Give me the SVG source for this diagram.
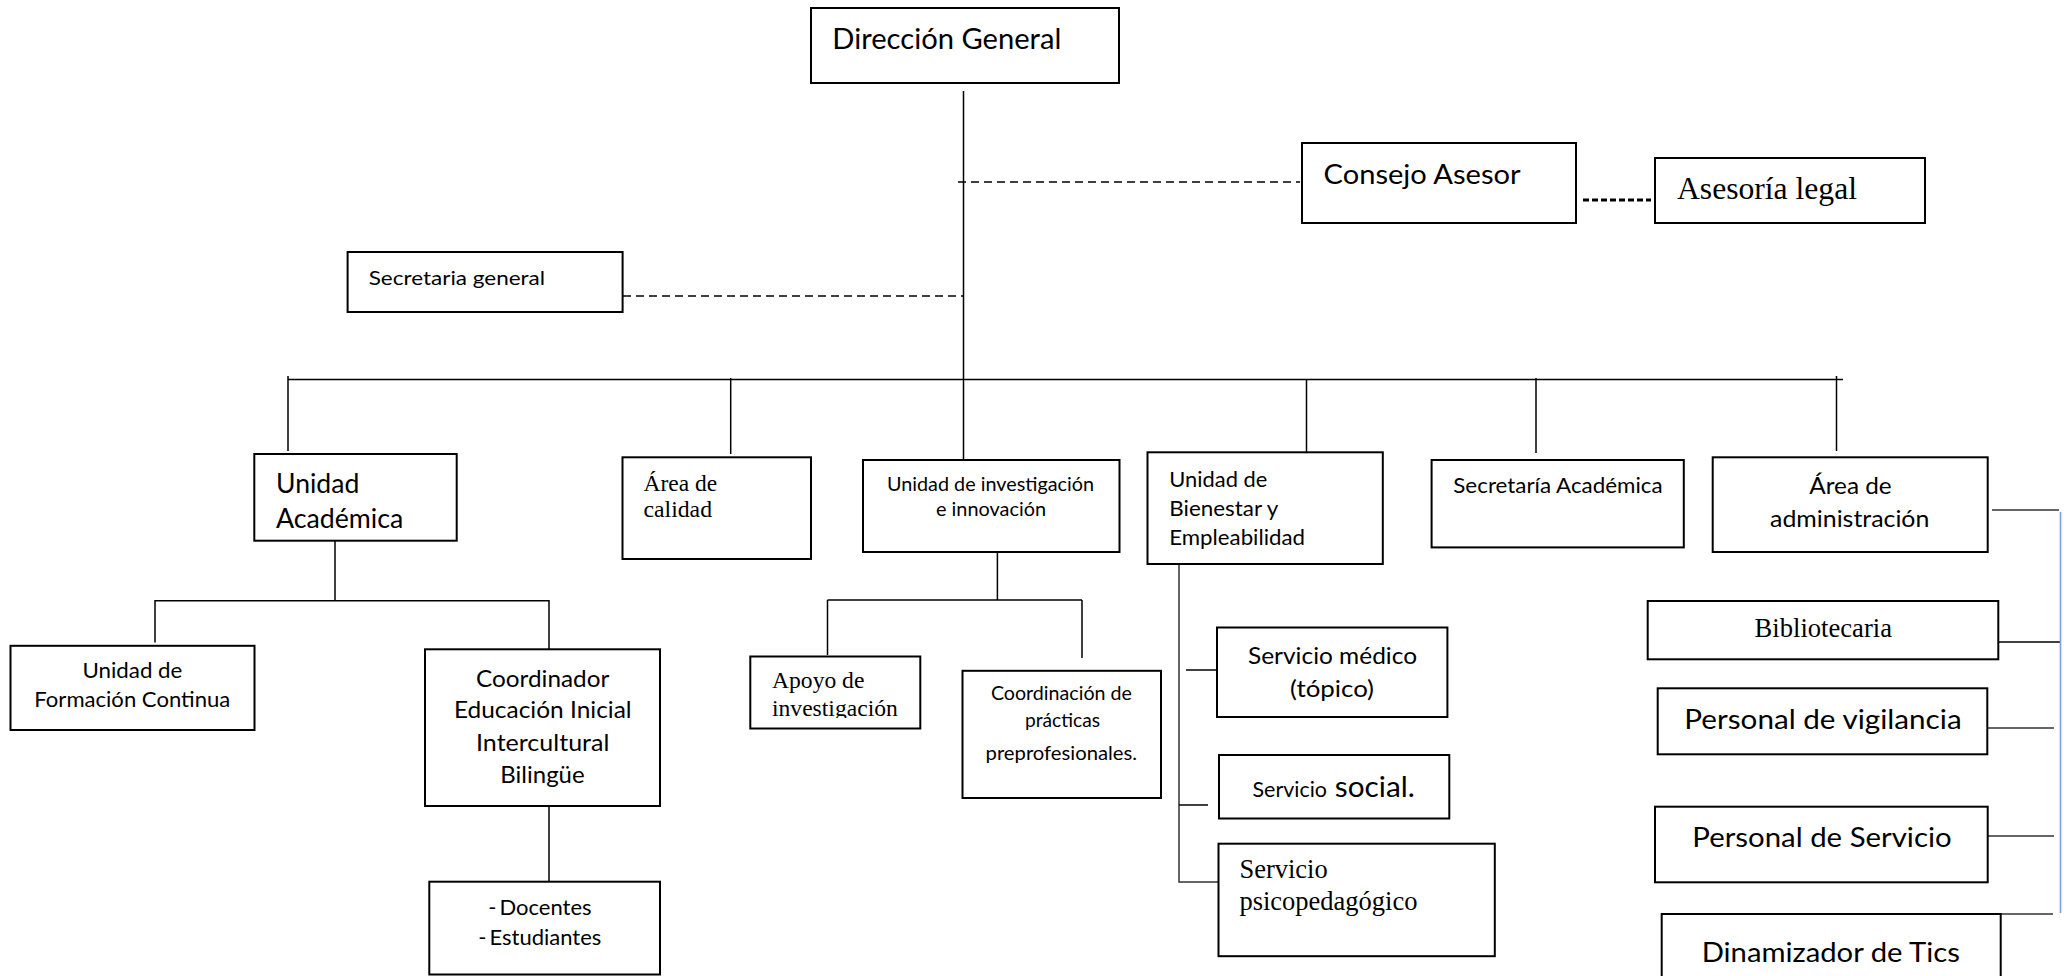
<svg xmlns="http://www.w3.org/2000/svg" width="2064" height="976" viewBox="0 0 2064 976">
<style>
.box{fill:#fff;stroke:#000;stroke-width:2}
.ln{stroke:#000;stroke-width:1.5;fill:none}
.gr{stroke:#333;stroke-width:1.5;fill:none}
.dash{stroke:#000;stroke-width:1.6;stroke-dasharray:8 5;fill:none}
.dot{stroke:#000;stroke-width:3;stroke-dasharray:6 3;fill:none}
.blue{stroke:#7f9fd8;stroke-width:1.6;fill:none}
.t{font-family:Lato,"Liberation Sans",sans-serif;fill:#000}
.s{font-family:"Liberation Serif",serif;fill:#000}
.m{text-anchor:middle}
</style>
<defs>
<clipPath id="clipApoyo"><rect x="750" y="656" width="171" height="62"/></clipPath>
</defs>
<rect width="2064" height="976" fill="#fff"/>
<g id="connectors">
<line class="ln" x1="963.5" y1="91" x2="963.5" y2="460"/>
<line class="dash" x1="958" y1="182" x2="1300" y2="182"/>
<line class="dash" x1="623" y1="296" x2="963" y2="296"/>
<line class="dot" x1="1583" y1="200" x2="1651" y2="200"/>
<line class="ln" x1="288" y1="379.5" x2="1843" y2="379.5"/>
<line class="ln" x1="288" y1="376" x2="288" y2="451"/>
<line class="ln" x1="730.7" y1="378" x2="730.7" y2="454"/>
<line class="ln" x1="1306.5" y1="379" x2="1306.5" y2="452"/>
<line class="ln" x1="1536" y1="378" x2="1536" y2="453"/>
<line class="ln" x1="1836.5" y1="376" x2="1836.5" y2="451"/>
<line class="ln" x1="335" y1="541" x2="335" y2="600.7"/>
<line class="ln" x1="155" y1="600.7" x2="549" y2="600.7"/>
<line class="ln" x1="155" y1="600" x2="155" y2="642.4"/>
<line class="ln" x1="549" y1="600" x2="549" y2="658.3"/>
<line class="ln" x1="549" y1="806" x2="549" y2="881.7"/>
<line class="ln" x1="997.4" y1="552" x2="997.4" y2="600"/>
<line class="ln" x1="827.5" y1="600" x2="1082" y2="600"/>
<line class="ln" x1="827.5" y1="600" x2="827.5" y2="655"/>
<line class="ln" x1="1082" y1="600" x2="1082" y2="658"/>
<polyline class="gr" points="1179,561 1179,882 1223,882"/>
<line class="ln" x1="1186" y1="670" x2="1217" y2="670"/>
<line class="ln" x1="1179" y1="805" x2="1208" y2="805"/>
<line class="gr" x1="1992" y1="510" x2="2059" y2="510"/>
<line class="ln" x1="1998" y1="642" x2="2061" y2="642"/>
<line class="gr" x1="1988" y1="728" x2="2054" y2="728"/>
<line class="gr" x1="1988" y1="836" x2="2054" y2="836"/>
<line class="gr" x1="2000" y1="914" x2="2053" y2="914"/>
<line class="blue" x1="2060.5" y1="512" x2="2060.5" y2="913"/>
</g>
<g id="direccion-general">
<rect class="box" x="811" y="8" width="308" height="75"/>
<text class="t" x="832.3" y="49" font-size="28" textLength="229" lengthAdjust="spacingAndGlyphs">Dirección General</text>
</g>
<g id="consejo-asesor">
<rect class="box" x="1302" y="143" width="274" height="80"/>
<text class="t" x="1323.6" y="184" font-size="27" textLength="197" lengthAdjust="spacingAndGlyphs">Consejo Asesor</text>
</g>
<g id="asesoria-legal">
<rect class="box" x="1655" y="158" width="270" height="65"/>
<text class="s" x="1677" y="199" font-size="30.5" textLength="180" lengthAdjust="spacingAndGlyphs">Asesoría legal</text>
</g>
<g id="secretaria-general">
<rect class="box" x="347.6" y="252" width="275" height="60"/>
<text class="t" x="368.7" y="285" font-size="20" textLength="176.4" lengthAdjust="spacingAndGlyphs">Secretaria general</text>
</g>
<g id="unidad-academica">
<rect class="box" x="254.3" y="454" width="202.4" height="86.7"/>
<text class="t" x="276" y="493.3" font-size="27" textLength="83.3" lengthAdjust="spacingAndGlyphs">Unidad</text>
<text class="t" x="276" y="528.3" font-size="27" textLength="127.3" lengthAdjust="spacingAndGlyphs">Académica</text>
</g>
<g id="area-calidad">
<rect class="box" x="622.5" y="457.3" width="188.5" height="101.7"/>
<text class="s" x="643.5" y="490.5" font-size="23" textLength="73.7" lengthAdjust="spacingAndGlyphs">Área de</text>
<text class="s" x="643.5" y="517.3" font-size="23" textLength="68.5" lengthAdjust="spacingAndGlyphs">calidad</text>
</g>
<g id="unidad-investigacion">
<rect class="box" x="863" y="460" width="256.5" height="92"/>
<text class="t m" x="990.5" y="490.6" font-size="19" textLength="207" lengthAdjust="spacingAndGlyphs">Unidad de investigación</text>
<text class="t m" x="991" y="516" font-size="19" textLength="110" lengthAdjust="spacingAndGlyphs">e innovación</text>
</g>
<g id="unidad-bienestar">
<rect class="box" x="1147.5" y="452.3" width="235.3" height="111.7"/>
<text class="t" x="1169.3" y="486.7" font-size="21" textLength="98" lengthAdjust="spacingAndGlyphs">Unidad de</text>
<text class="t" x="1169.3" y="516" font-size="21" textLength="109" lengthAdjust="spacingAndGlyphs">Bienestar y</text>
<text class="t" x="1169.3" y="545" font-size="21" textLength="135.7" lengthAdjust="spacingAndGlyphs">Empleabilidad</text>
</g>
<g id="secretaria-academica">
<rect class="box" x="1431.6" y="460" width="252.2" height="87.4"/>
<text class="t m" x="1558" y="493" font-size="21" textLength="209.4" lengthAdjust="spacingAndGlyphs">Secretaría Académica</text>
</g>
<g id="area-administracion">
<rect class="box" x="1712.7" y="457.3" width="275" height="94.7"/>
<text class="t m" x="1850.5" y="494" font-size="23.5" textLength="82.4" lengthAdjust="spacingAndGlyphs">Área de</text>
<text class="t m" x="1849.7" y="527.3" font-size="23.5" textLength="159.3" lengthAdjust="spacingAndGlyphs">administración</text>
</g>
<g id="unidad-formacion-continua">
<rect class="box" x="10.5" y="645.8" width="244" height="84.2"/>
<text class="t m" x="132.4" y="677.6" font-size="21" textLength="100" lengthAdjust="spacingAndGlyphs">Unidad de</text>
<text class="t m" x="132.3" y="706.7" font-size="21" textLength="196" lengthAdjust="spacingAndGlyphs">Formación Continua</text>
</g>
<g id="coordinador-eib">
<rect class="box" x="425" y="649.3" width="235" height="156.7"/>
<text class="t m" x="542.7" y="686.7" font-size="23.4" textLength="133.3" lengthAdjust="spacingAndGlyphs">Coordinador</text>
<text class="t m" x="542.8" y="718.3" font-size="23.4" textLength="177.7" lengthAdjust="spacingAndGlyphs">Educación Inicial</text>
<text class="t m" x="542.7" y="751" font-size="23.4" textLength="133.3" lengthAdjust="spacingAndGlyphs">Intercultural</text>
<text class="t m" x="542.5" y="782.7" font-size="23.4" textLength="84.3" lengthAdjust="spacingAndGlyphs">Bilingüe</text>
</g>
<g id="docentes-estudiantes">
<rect class="box" x="429.3" y="881.7" width="230.7" height="92.8"/>
<text class="t" x="488.3" y="915" font-size="22">-<tspan dx="3">Docentes</tspan></text>
<text class="t" x="478.3" y="945" font-size="22">-<tspan dx="3">Estudiantes</tspan></text>
</g>
<g id="apoyo-investigacion">
<rect class="box" x="750.3" y="656.5" width="170" height="72"/>
<g clip-path="url(#clipApoyo)">
<text class="s" x="772" y="688" font-size="23.6">Apoyo de</text>
<text class="s" x="772" y="715.5" font-size="23.6">investigación</text>
</g>
</g>
<g id="coordinacion-practicas">
<rect class="box" x="962.5" y="670.8" width="198.5" height="127.2"/>
<text class="t m" x="1061.4" y="699.8" font-size="19" textLength="141" lengthAdjust="spacingAndGlyphs">Coordinación de</text>
<text class="t m" x="1062.5" y="726.5" font-size="19" textLength="75" lengthAdjust="spacingAndGlyphs">prácticas</text>
<text class="t m" x="1061.3" y="759.7" font-size="19" textLength="151.5" lengthAdjust="spacingAndGlyphs">preprofesionales.</text>
</g>
<g id="servicio-medico">
<rect class="box" x="1217" y="627.5" width="230.4" height="89.5"/>
<text class="t m" x="1332.5" y="664" font-size="23.7" textLength="169" lengthAdjust="spacingAndGlyphs">Servicio médico</text>
<text class="t m" x="1332" y="696.5" font-size="23.7" textLength="84" lengthAdjust="spacingAndGlyphs">(tópico)</text>
</g>
<g id="servicio-social">
<rect class="box" x="1219" y="755" width="230.3" height="63.5"/>
<text class="t" x="1252.5" y="797" font-size="21" textLength="74.5" lengthAdjust="spacingAndGlyphs">Servicio</text>
<text class="t" x="1334.8" y="797" font-size="28.4" textLength="80" lengthAdjust="spacingAndGlyphs">social.</text>
</g>
<g id="servicio-psicopedagogico">
<rect class="box" x="1218.5" y="843.7" width="276.3" height="112.5"/>
<text class="s" x="1239.4" y="878" font-size="26.5">Servicio</text>
<text class="s" x="1239.4" y="910" font-size="26.5">psicopedagógico</text>
</g>
<g id="bibliotecaria">
<rect class="box" x="1647.7" y="601" width="350.6" height="58.3"/>
<text class="s m" x="1823.3" y="637.3" font-size="26.6">Bibliotecaria</text>
</g>
<g id="personal-vigilancia">
<rect class="box" x="1657.7" y="688.3" width="329.6" height="66"/>
<text class="t m" x="1823" y="729.3" font-size="27.8" textLength="277.3" lengthAdjust="spacingAndGlyphs">Personal de vigilancia</text>
</g>
<g id="personal-servicio">
<rect class="box" x="1655" y="806.7" width="332.7" height="75.6"/>
<text class="t m" x="1822" y="846.7" font-size="27.8" textLength="259.3" lengthAdjust="spacingAndGlyphs">Personal de Servicio</text>
</g>
<g id="dinamizador-tics">
<rect class="box" x="1661.7" y="914" width="339" height="80"/>
<text class="t m" x="1830.8" y="962" font-size="27.8" textLength="258.3" lengthAdjust="spacingAndGlyphs">Dinamizador de Tics</text>
</g>
</svg>
